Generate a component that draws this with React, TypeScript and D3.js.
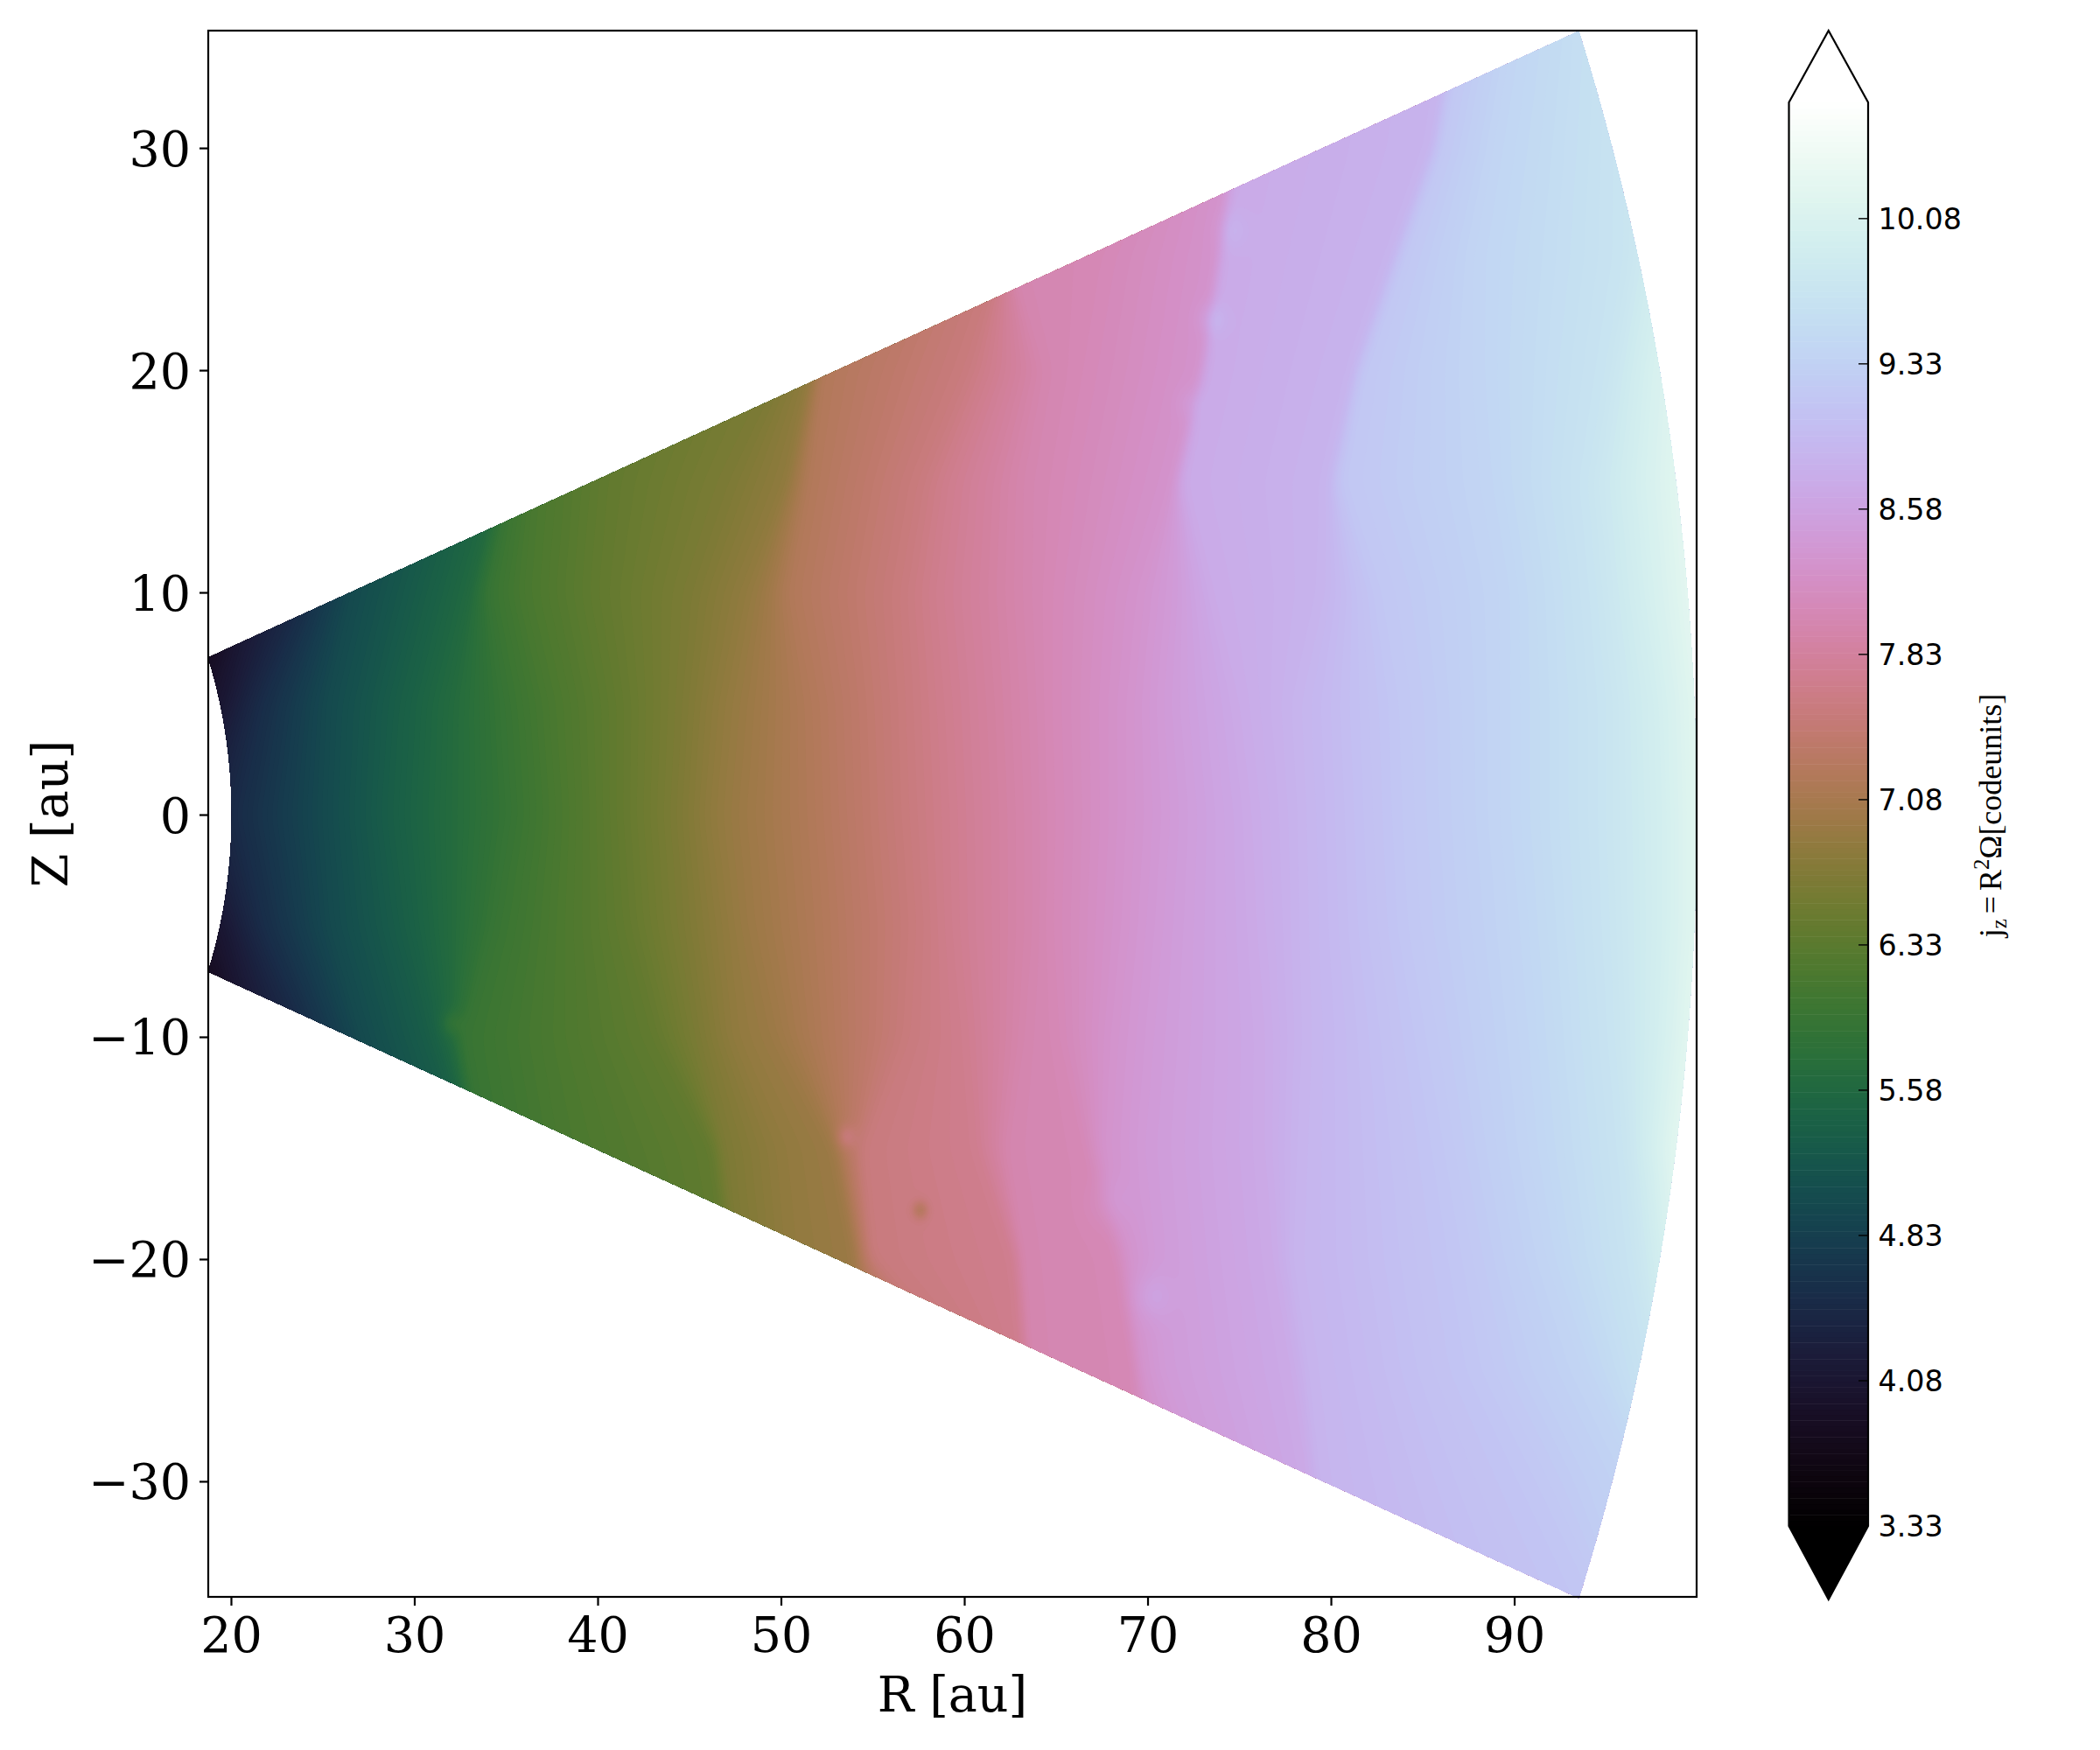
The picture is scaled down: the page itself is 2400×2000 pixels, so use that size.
import React, { useRef, useEffect } from 'react';
import * as d3 from 'd3';

// axis ticks
const rTicks = [20, 30, 40, 50, 60, 70, 80, 90];
const zTicks = [-30, -20, -10, 0, 10, 20, 30];
const cbarTicks = [3.33, 4.08, 4.83, 5.58, 6.33, 7.08, 7.83, 8.58, 9.33, 10.08];

// colour range of the bar
const jMin = 3.33;
const jMax = 10.68;

// wedge
const rInner = 20.04;
const rOuter = 99.95;
const thetaMax = 0.3605;

// heights where the j_z fronts were read
const zStations = [-35, -30, -25, -20, -15, -10, -5, 0, 5, 10, 15, 20, 25, 30, 35];

// j_z level of each front
const jLevels = [
  3.5, 4.1, 4.5, 5.0, 5.35, 5.6, 5.95, 6.15, 6.4, 6.65, 6.85, 6.95, 7.2, 7.55, 7.7, 8.0, 8.05,
  8.3, 8.45, 8.7, 8.85, 9.15, 9.4, 9.7, 9.95, 10.2, 10.6,
];

// R [au] of every front at each height, same order as jLevels / zStations
const frontR = [
  [14, 14, 14, 14, 17, 19, 15.5, 14, 15.5, 19, 17, 14, 14, 14, 14],
  [20, 20, 20, 20, 21, 21, 19.5, 17, 19.5, 21, 21, 20, 20, 20, 20],
  [30, 30, 30, 28, 26, 24, 21.5, 20.2, 21.5, 24, 26, 28, 30, 30, 30],
  [34, 34, 34, 32, 29, 27, 25.4, 25, 25.2, 26.5, 28, 30, 32, 34, 34],
  [38, 38, 37, 35, 32.8, 30.8, 29.3, 28.6, 29, 30.5, 32.2, 34, 36, 38, 38],
  [40, 40, 39, 37, 33.2, 32, 31.6, 31.4, 31.6, 33, 34.6, 36, 38, 40, 40],
  [42, 42, 41, 39, 33.6, 32.6, 34.4, 35.4, 35, 34, 35.2, 37, 39, 42, 42],
  [44, 44, 43, 41, 38, 37, 37.4, 37.8, 37.4, 36, 36.5, 38, 41, 44, 44],
  [46, 46, 45, 47, 46.2, 43, 41.4, 41, 41, 40, 40.5, 42, 44, 46, 46],
  [48, 48, 47, 47.5, 46.8, 45.5, 44.6, 44.2, 44.5, 45, 47, 50, 49, 50, 50],
  [50, 50, 49, 50.5, 50, 47.5, 47, 46.3, 46.8, 48, 50.4, 51.7, 52, 52, 52],
  [52, 52, 53, 54, 52.8, 49.5, 48.2, 47.7, 48.2, 49, 50.6, 51.8, 53, 54, 54],
  [57, 57, 56, 54.4, 53.4, 52.5, 52.2, 51.8, 51.6, 50.5, 51.5, 52.2, 55, 57, 57],
  [62, 62, 61, 55, 54.5, 57, 57.4, 57, 56.8, 56.5, 57.5, 60, 62, 62, 62],
  [64, 64, 63.2, 62.7, 60.6, 60, 59.4, 59.3, 59, 58.5, 59.2, 61.5, 62.2, 64, 64],
  [66, 65, 63.6, 63.2, 62.5, 63.5, 64, 64, 63.8, 63.5, 63.5, 64.5, 62.5, 66, 66],
  [70, 69.5, 69.2, 68.2, 66.5, 65, 64.6, 64.7, 64.5, 64.5, 65, 66, 67, 70, 70],
  [72, 71, 69.6, 69, 67.6, 68, 68.6, 68.9, 68.9, 69.5, 71.4, 72.9, 73.8, 74.5, 75],
  [73, 73, 71, 70.5, 70, 70.5, 71, 71.4, 71, 71.5, 71.6, 73, 73.9, 74.7, 75.2],
  [80, 79, 78, 77, 76.5, 76.5, 76, 75.7, 75, 73.5, 71.9, 73.2, 74.1, 75, 75.5],
  [80.2, 79.2, 78.7, 77.9, 78.2, 78.5, 78.4, 78.3, 78, 79.5, 79.8, 81.3, 83.4, 85.6, 86.5],
  [94, 91, 88, 87, 86, 85, 84, 83.7, 83.5, 82.5, 80.5, 81.6, 83.7, 85.8, 87],
  [98, 97, 94, 92, 91, 90.5, 90, 89.5, 89.5, 89.5, 88.5, 88, 88, 89, 90],
  [99, 98.5, 97.5, 96.5, 96, 95.5, 95.2, 95, 95, 94.5, 94, 95, 96, 96, 96],
  [99.5, 99, 98.5, 98, 97.4, 97.8, 98, 98, 97.8, 97, 96.5, 97, 98, 99, 99],
  [100.5, 100, 99.5, 99, 98.7, 99.4, 99.9, 99.9, 99.8, 99.2, 98.8, 99, 100, 101, 101],
  [102, 102, 102, 102, 102, 102, 102, 102, 102, 102, 102, 102, 102, 102, 102],
];

// small swirls seen in the field: R, Z, change in j_z, size in au
const swirlR = [53.55, 57.6, 70.2, 74.6, 73.5, 72.3, 32.0, 67.8];
const swirlZ = [-14.5, -17.8, -21.7, 26.3, 22.3, 18.5, -9.4, -17.5];
const swirlAmp = [0.25, -0.35, 0.15, 0.12, 0.2, 0.1, 0.2, 0.1];
const swirlSize = [0.35, 0.3, 0.7, 0.6, 0.5, 0.5, 0.4, 0.8];

const left = 238;
const right = 1939;
const top = 35;
const bottom = 1825;
const serif = '"DejaVu Serif", serif';

const App: React.FC = () => {
  const svgRef = useRef<SVGSVGElement | null>(null);

  useEffect(() => {
    const svg = d3.select(svgRef.current!);
    svg.selectAll('*').remove();

    const x = d3.scaleLinear().domain([18.76, 99.95]).range([left, right]);
    const y = d3.scaleLinear().domain([-35.2, 35.28]).range([bottom, top]);
    const colour = d3.scaleSequential(d3.interpolateCubehelixDefault).domain([jMin, jMax]);

    // build the field on a pixel grid
    const cell = 4;
    const nx = Math.ceil((right - left) / cell) + 2;
    const ny = Math.ceil((bottom - top) / cell) + 2;
    const values = new Float64Array(nx * ny);
    const frontScales = frontR.map((row) => d3.scaleLinear().domain(zStations).range(row));
    for (let j = 0; j < ny; j++) {
      const z = y.invert(top + j * cell);
      let last = -Infinity;
      const fronts = frontScales.map((s) => {
        last = Math.max(last, s(z));
        return last;
      });
      const jOfR = d3.scaleLinear().domain(fronts).range(jLevels).clamp(true);
      for (let i = 0; i < nx; i++) {
        values[j * nx + i] = jOfR(x.invert(left + i * cell));
      }
    }
    d3.blur2({ data: values, width: nx, height: ny }, 0.5, 2);
    swirlR.forEach((r0, k) => {
      for (let j = 0; j < ny; j++) {
        const dz = (y.invert(top + j * cell) - swirlZ[k]) / swirlSize[k];
        if (Math.abs(dz) > 4) continue;
        for (let i = 0; i < nx; i++) {
          const dr = (x.invert(left + i * cell) - r0) / swirlSize[k];
          if (Math.abs(dr) > 4) continue;
          values[j * nx + i] += swirlAmp[k] * Math.exp(-0.5 * (dr * dr + dz * dz));
        }
      }
    });

    // wedge outline used as clip
    const thetas = d3.range(-thetaMax, thetaMax + 0.001, thetaMax / 60);
    const outline: [number, number][] = [
      ...thetas.map((t) => [x(rOuter * Math.cos(t)), y(rOuter * Math.sin(t))] as [number, number]),
      ...thetas.slice().reverse().map((t) => [x(rInner * Math.cos(t)), y(rInner * Math.sin(t))] as [number, number]),
    ];
    svg.append('clipPath').attr('id', 'wedge').append('path').attr('d', d3.line()(outline)! + 'Z');

    // filled levels, one per colour of the 256 colour map
    const bandValue = d3.scaleLinear().domain([0, 256]).range([jMin, jMax]);
    const thresholds = d3.range(0, 256).map((k) => bandValue(k));
    const contours = d3.contours().size([nx, ny]).smooth(true).thresholds(thresholds)(values as unknown as number[]);
    const gridPath = d3.geoPath(
      d3.geoTransform({
        point(px, py) {
          this.stream.point(left + (px - 0.5) * cell, top + (py - 0.5) * cell);
        },
      }),
    ).digits(1);
    svg.append('g')
      .attr('clip-path', 'url(#wedge)')
      .selectAll('path')
      .data(contours.filter((c) => c.coordinates.length > 0))
      .enter()
      .append('path')
      .attr('d', (c) => gridPath(c)!)
      .attr('fill', (c) => colour(c.value + (jMax - jMin) / 512));

    // axes
    const xAxis = svg.append('g')
      .attr('transform', `translate(0,${bottom})`)
      .call(d3.axisBottom(x).tickValues(rTicks).tickFormat(d3.format('d')).tickSize(10).tickPadding(13.6));
    const yAxis = svg.append('g')
      .attr('transform', `translate(${left},0)`)
      .call(d3.axisLeft(y).tickValues(zTicks).tickFormat(d3.format('d')).tickSize(10).tickPadding(10));
    [xAxis, yAxis].forEach((a) => {
      a.select('.domain').remove();
      a.selectAll('line').attr('stroke', '#000').attr('stroke-width', 2.2);
      a.selectAll('text').attr('fill', '#000').style('font-family', serif).style('font-size', '55.5px');
    });
    yAxis.selectAll('text').attr('dy', '0.36em');

    svg.append('rect')
      .attr('x', left)
      .attr('y', top)
      .attr('width', right - left)
      .attr('height', bottom - top)
      .attr('fill', 'none')
      .attr('stroke', '#000')
      .attr('stroke-width', 2.2);

    svg.append('text')
      .attr('x', (left + right) / 2)
      .attr('y', 1956)
      .attr('text-anchor', 'middle')
      .style('font-family', serif)
      .style('font-size', '55.5px')
      .text('R [au]');
    svg.append('text')
      .attr('transform', `translate(77,${(top + bottom) / 2}) rotate(-90)`)
      .attr('text-anchor', 'middle')
      .style('font-family', serif)
      .style('font-size', '55.5px')
      .text('Z [au]');

    // colour bar
    const barL = 2044.5;
    const barR = 2135;
    const barMid = (barL + barR) / 2;
    const cb = d3.scaleLinear().domain([jMin, jMax]).range([1744, 117]);
    const bar = svg.append('g');
    bar.selectAll('rect')
      .data(d3.range(0, 256))
      .enter()
      .append('rect')
      .attr('x', barL)
      .attr('width', barR - barL)
      .attr('y', (k) => cb(bandValue(k + 1)))
      .attr('height', (k) => cb(bandValue(k)) - cb(bandValue(k + 1)) + 0.5)
      .attr('fill', (k) => colour(bandValue(k + 0.5)));
    const barLine = d3.line();
    bar.append('path')
      .attr('d', barLine([[barL, cb(jMin)], [barMid, cb(jMin) + 84], [barR, cb(jMin)]])! + 'Z')
      .attr('fill', '#000');
    bar.append('path')
      .attr('d', barLine([
        [barL, cb(jMax)], [barMid, cb(jMax) - 82], [barR, cb(jMax)], [barR, cb(jMin)],
        [barMid, cb(jMin) + 84], [barL, cb(jMin)],
      ])! + 'Z')
      .attr('fill', 'none')
      .attr('stroke', '#000')
      .attr('stroke-width', 2.2);
    const ticks = bar.selectAll('g.cbtick').data(cbarTicks).enter().append('g').attr('class', 'cbtick');
    ticks.append('line')
      .attr('x1', barR - 11)
      .attr('x2', barR)
      .attr('y1', (d) => cb(d))
      .attr('y2', (d) => cb(d))
      .attr('stroke', '#000')
      .attr('stroke-width', 1.4);
    ticks.append('text')
      .attr('x', 2146.5)
      .attr('y', (d) => cb(d))
      .attr('dy', '0.36em')
      .style('font-family', '"DejaVu Sans", sans-serif')
      .style('font-size', '33.3px')
      .text((d) => d3.format('.2f')(d));

    const label = svg.append('text')
      .attr('transform', `translate(2287,932) rotate(-90)`)
      .attr('text-anchor', 'middle')
      .style('font-family', '"Liberation Serif", serif')
      .style('font-size', '36px');
    label.append('tspan').text('j');
    label.append('tspan').attr('dy', 6).style('font-size', '25px').text('z');
    label.append('tspan').attr('dy', -6).attr('dx', 6).text('=');
    label.append('tspan').attr('dx', 6).text('R');
    label.append('tspan').attr('dy', -14).style('font-size', '25px').text('2');
    label.append('tspan').attr('dy', 14).text('Ω[codeunits]');
  }, []);

  return (
    <svg
      ref={svgRef}
      width={2400}
      height={2000}
      style={{ position: 'absolute', left: 0, top: 0, background: '#fff' }}
    />
  );
};

export default App;
